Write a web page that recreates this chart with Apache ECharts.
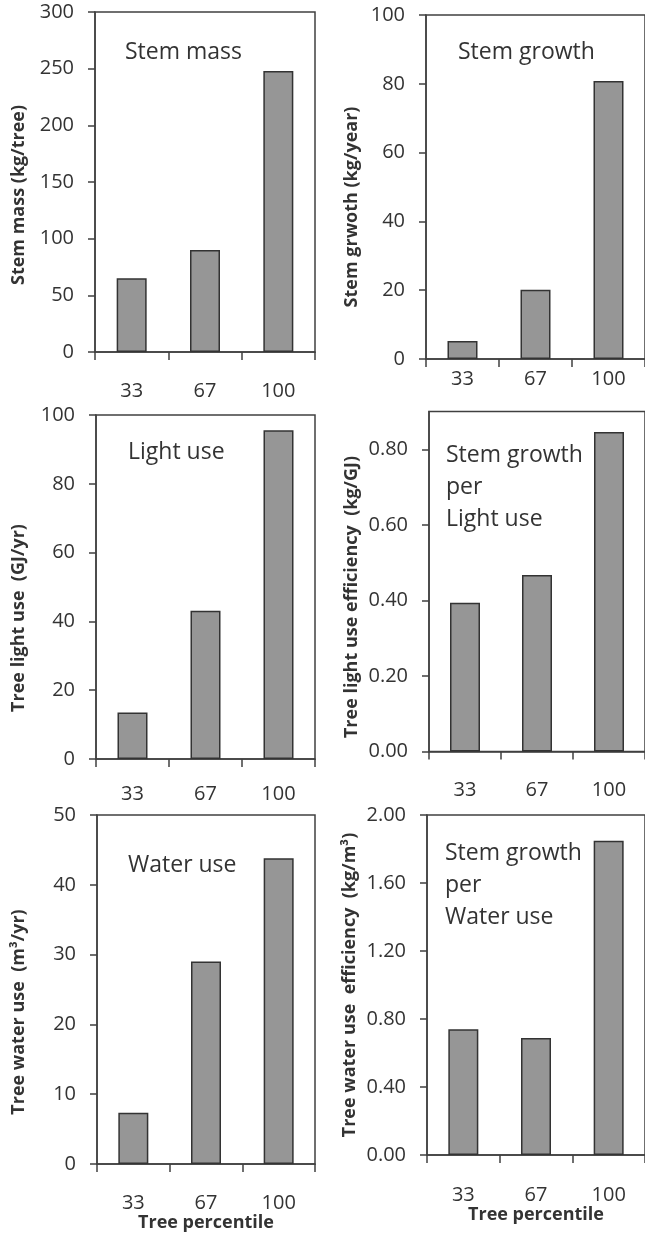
<!DOCTYPE html>
<html>
<head>
<meta charset="utf-8">
<script src="https://cdn.jsdelivr.net/npm/echarts@6/dist/echarts.min.js"></script>
<style>
html,body{margin:0;padding:0;background:#fff;}
#chart{width:645px;height:1234px;}
</style>
</head>
<body>
<div id="chart"></div>
<script>
// ---- data ----
const categories = ['33', '67', '100'];
const stemMass = [65, 90, 248];
const stemGrowth = [5.2, 20.1, 80.8];
const lightUse = [13.5, 43.1, 95.6];
const lightUseEff = [0.394, 0.467, 0.846];
const waterUse = [7.35, 29.0, 43.8];
const waterUseEff = [0.739, 0.688, 1.849];

const yTicksLightEff = [0, 0.2, 0.4, 0.6, 0.8];

const panelTitles = ['Stem mass', 'Stem growth', 'Light use', 'Stem growth\nper\nLight use', 'Water use', 'Stem growth\nper\nWater use'];
const yTitles = ['Stem mass (kg/tree)', 'Stem grwoth (kg/year)', 'Tree light use  (GJ/yr)', 'Tree light use efficiency  (kg/GJ)', 'Tree water use  (m\u00B3/yr)', 'Tree water use  efficiency  (kg/m\u00B3)'];
const xTitle = 'Tree percentile';

// ---- layout ----
const FONT = '"Open Sans", "Liberation Sans", sans-serif';
const TXT = '#333';
const AX = '#404040';
const panels = [
  {grid:{left:95, top:12, width:220, height:340}, max:300, interval:50, data:stemMass, dec:0, lm:29, title:[125,52], yt:[19,195]},
  {grid:{left:426, top:15, width:220, height:344}, max:100, interval:20, data:stemGrowth, dec:0, lm:10, title:[458,52], yt:[352,207]},
  {grid:{left:96, top:415, width:219, height:344}, max:100, interval:20, data:lightUse, dec:0, lm:25, title:[128,452], yt:[19,618]},
  {grid:{left:429, top:411.5, width:220, height:340}, max:0.9, custom:yTicksLightEff, data:lightUseEff, dec:2, lm:29, title:[446,455], yt:[352,597]},
  {grid:{left:97, top:815, width:218, height:349}, max:50, interval:10, data:waterUse, dec:0, lm:29, title:[128,865], yt:[19,1012], xname:true},
  {grid:{left:427, top:815, width:220, height:340}, max:2.0, interval:0.4, data:waterUseEff, dec:2, lm:30, title:[445,853], yt:[350,985], xname:true}
];

const grids = [], xAxes = [], yAxes = [], series = [], graphics = [];
panels.forEach((p, i) => {
  grids.push(Object.assign({show:true, borderColor:AX, borderWidth:1.5, backgroundColor:'transparent'}, p.grid));
  xAxes.push({
    type:'category', gridIndex:i, data:categories,
    axisLine:{lineStyle:{color:AX, width:1.5}},
    axisTick:{show:true, length:8, lineStyle:{color:AX, width:1.5}},
    axisLabel:{color:TXT, fontSize:20, fontFamily:FONT, margin:p.lm},
    name: p.xname ? xTitle : '', nameLocation:'middle', nameGap:47,
    nameTextStyle:{color:TXT, fontSize:18, fontWeight:'bold', fontFamily:FONT}
  });
  const tick = {show:true, length:7, lineStyle:{color:AX, width:1.5}};
  const lab = {color:TXT, fontSize:20, fontFamily:FONT, margin:21,
      formatter: v => Number(v).toFixed(p.dec)};
  const y = {
    type:'value', gridIndex:i, min:0, max:p.max,
    axisLine:{show:true, lineStyle:{color:AX, width:1.5}},
    axisTick:tick, axisLabel:lab, splitLine:{show:false}
  };
  if (p.custom) { tick.customValues = p.custom; lab.customValues = p.custom; y.interval = 0.1; }
  else { y.interval = p.interval; }
  yAxes.push(y);
  series.push({
    type:'bar', xAxisIndex:i, yAxisIndex:i, data:p.data, barWidth:30,
    itemStyle:{color:'#969696', borderColor:'#333', borderWidth:1.5},
    silent:true, animation:false
  });
  const multi = panelTitles[i].indexOf('\n') >= 0;
  graphics.push({
    type:'text', x:p.title[0], y: multi ? p.title[1] - 16 : p.title[1],
    style:{text:panelTitles[i], fill:TXT, fontSize:23, fontFamily:FONT,
      align:'left', verticalAlign: multi ? 'top' : 'middle', lineHeight:32}
  });
  graphics.push({
    type:'text', x:p.yt[0], y:p.yt[1], rotation:Math.PI/2,
    style:{text:yTitles[i], fill:TXT, fontSize:18, fontWeight:'bold', fontFamily:FONT,
      align:'center', verticalAlign:'middle'}
  });
});

const chart = echarts.init(document.getElementById('chart'), null, {renderer:'canvas'});
chart.setOption({
  animation:false,
  grid:grids, xAxis:xAxes, yAxis:yAxes, series:series, graphic:graphics
});
</script>
</body>
</html>
